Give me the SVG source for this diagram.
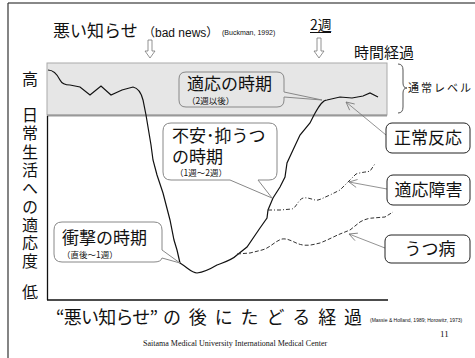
<svg xmlns="http://www.w3.org/2000/svg" width="475" height="358" viewBox="0 0 475 358">
<defs>
<style>
.jp{font-family:"Noto Sans CJK JP","Liberation Sans",sans-serif;fill:#111}
.lat{font-family:"Liberation Sans","Noto Sans CJK JP",sans-serif;fill:#111}
.ser{font-family:"Liberation Serif",serif;fill:#111}
.box{fill:#fff;stroke:#222;stroke-width:1}
.call{stroke:#888;stroke-width:1}
.ptr{stroke:#777;stroke-width:0.8;fill:none;marker-end:url(#ah)}
.harrow{fill:#fff;stroke:#777;stroke-width:0.8}
</style>
<marker id="ah" markerWidth="10" markerHeight="10" refX="9" refY="5" orient="auto" markerUnits="userSpaceOnUse">
<path d="M1,1 L9,5 L1,9" fill="none" stroke="#777" stroke-width="0.8"/>
</marker>
</defs>
<rect width="475" height="358" fill="#fff"/>
<!-- frame -->
<line x1="8" y1="3" x2="475" y2="3" stroke="#888" stroke-width="2"/>
<line x1="8" y1="3" x2="8" y2="358" stroke="#333" stroke-width="1.2"/>
<!-- normal band -->
<rect x="47" y="63" width="340" height="52" fill="#e6e6e6" stroke="#aaa" stroke-width="1"/>
<line x1="47" y1="115.5" x2="387" y2="115.5" stroke="#999" stroke-width="2"/>
<!-- axes -->
<line x1="47.5" y1="116" x2="47.5" y2="300" stroke="#111" stroke-width="1.3"/>
<line x1="47" y1="300" x2="388" y2="300" stroke="#111" stroke-width="1.5"/>
<!-- header -->
<text class="jp" x="53" y="37" font-size="17">悪い知らせ</text>
<text class="lat" x="143" y="37" font-size="12">（bad news）</text>
<text class="lat" x="222" y="35" font-size="7">(Buckman, 1992)</text>
<text class="jp" x="310" y="30" font-size="14">2週</text>
<line x1="310" y1="32.5" x2="331" y2="32.5" stroke="#111" stroke-width="1"/>
<text class="jp" x="354" y="58" font-size="15">時間経過</text>
<path class="harrow" d="M148,40 H152 V51 H155 L150,58 L145,51 H148 Z"/>
<path class="harrow" d="M317,38 H321 V51 H324 L319,58 L314,51 H317 Z"/>
<!-- normal level bracket -->
<path d="M398,64 Q403,64 403,70 L403,83 Q403,88 407,88 Q403,88 403,93 L403,107 Q403,113 398,113" fill="none" stroke="#555" stroke-width="1"/>
<text class="jp" x="408" y="92" font-size="11" letter-spacing="2">通常レベル</text>
<!-- y axis labels -->
<text class="jp" x="30" y="85" font-size="16" text-anchor="middle" fill="#333">高</text>
<text class="jp" x="30" y="107" font-size="16" writing-mode="vertical-rl" letter-spacing="2.3">日常生活への適応度</text>
<text class="jp" x="30" y="298" font-size="16" text-anchor="middle" fill="#333">低</text>
<!-- connectors -->
<g id="connectors">
<path d="M48,70 C54,70 57,74 60,80 C62,84 65,85 70,85 L80,87 L90,95 L101,86 L111,95 L122,90 L133,87 C138,88 141,92 143,100 L146,115 L148,127 L151,145 L153,160 L157,175 L163,193 L170,220 L174,240 L177,250 L180,263 C188,268 192,273 197,273 C205,272 212,268 217,265 C225,262 232,260 237,255 L247,247 L260,228 L267,218 L268,210 L273,198 L280,187 L285,177 L287,163 L293,150 L300,135 L310,123 L314,115 C318,108 322,100 327,100 L340,97 L352,98 L363,96 L370,93 L378,97" fill="none" stroke="#111" stroke-width="1.2"/>
<path d="M268,210 L280,210 L292,209 C296,208 298,200 303,198 C310,197 314,201 318,200 C322,199 325,197 330,195 L340,190 L348,182 L356,174 C362,172 368,172 370,171 C372,169 373,166 375,164" fill="none" stroke="#333" stroke-width="1" stroke-dasharray="4,2,1,2"/>
<path d="M237,254 L250,253 L262,250 C270,248 275,241 282,239 C290,238 295,244 303,245 C310,246 315,244 320,243 C330,239 335,236 340,234 L350,230 L360,222 C365,219 370,218 373,218 L385,217 L393,212" fill="none" stroke="#333" stroke-width="1" stroke-dasharray="4,2"/>
<path class="ptr" d="M386,135 L346,102"/>
<path class="ptr" d="M387,189 L349,182"/>
<path class="ptr" d="M385,248 L349,234"/>
</g>
<!-- callouts -->
<g id="adapt-period">
<path class="call" fill="#e6e6e6" d="M186,72 H277 Q284,72 284,79 V92 L322,100 L284,97 V100 Q284,107 277,107 H186 Q179,107 179,100 V79 Q179,72 186,72 Z"/>
<text class="jp" x="187" y="90" font-size="17">適応の時期</text>
<text class="jp" x="187" y="104" font-size="8.5">（2週以後）</text>
</g>
<g id="anxiety-period">
<path class="call" fill="#fff" d="M171,123 H269 Q277,123 277,131 V172 Q277,180 269,180 H258 L272,198 L230,180 H171 Q163,180 163,172 V131 Q163,123 171,123 Z"/>
<text class="jp" font-size="17"><tspan x="172" y="142">不安･抑うつ</tspan><tspan x="172" y="163">の時期</tspan><tspan x="175" y="176" font-size="8.5">（1週～2週）</tspan></text>
</g>
<g id="shock-period">
<path class="call" fill="#fff" d="M62,222 H154 Q162,222 162,230 V250 L180,263 L162,258 Q161,262 154,262 H62 Q54,262 54,254 V230 Q54,222 62,222 Z"/>
<text class="jp" x="62" y="244" font-size="17">衝撃の時期</text>
<text class="jp" x="62" y="258" font-size="8.5">（直後～1週）</text>
</g>
<g id="normal-reaction">
<rect class="box" x="386" y="123" width="84" height="30" rx="6"/>
<text class="jp" x="428" y="144" font-size="17" text-anchor="middle">正常反応</text>
</g>
<g id="adjustment-disorder">
<rect class="box" x="387" y="175" width="83" height="30" rx="6"/>
<text class="jp" x="428.5" y="196" font-size="17" text-anchor="middle">適応障害</text>
</g>
<g id="depression">
<rect class="box" x="385" y="235" width="85" height="28" rx="6"/>
<text class="jp" x="430" y="255" font-size="17" text-anchor="middle">うつ病</text>
</g>
<!-- footer -->
<text class="jp" font-size="18"><tspan x="56" y="324" textLength="102" lengthAdjust="spacing">“悪い知らせ”</tspan><tspan x="163" y="324" textLength="199" lengthAdjust="spacing">の後にたどる経過</tspan></text>
<text class="lat" x="370" y="322" font-size="5">(Massie &amp; Holland, 1989; Horowitz, 1973)</text>
<text class="ser" x="440" y="337" font-size="9">11</text>
<text class="ser" x="143" y="346" font-size="8">Saitama Medical University International Medical Center</text>
</svg>
